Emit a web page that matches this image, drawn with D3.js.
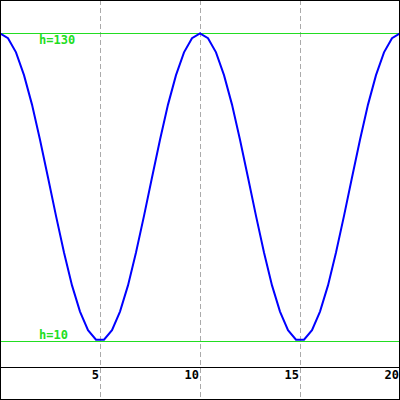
<!DOCTYPE html>
<meta charset="utf-8">
<style>body{margin:0;background:#fff}</style>
<svg width="400" height="400"></svg>
<script src="https://d3js.org/d3.v7.min.js"></script>
<script>
// height samples every 0.4 time units
const times = d3.range(51).map(i => +(i * 0.4).toFixed(1));
const heights = [
  130, 128.1, 122.6, 113.7, 102.2, 88.5, 73.8, 58.8, 44.5, 31.7, 21.5, 14.2, 10.5,
  10.5, 14.2, 21.5, 31.7, 44.5, 58.8, 73.8, 88.5, 102.2, 113.7, 122.6, 128.1,
  130, 128.1, 122.6, 113.7, 102.2, 88.5, 73.8, 58.8, 44.5, 31.7, 21.5, 14.2, 10.5,
  10.5, 14.2, 21.5, 31.7, 44.5, 58.8, 73.8, 88.5, 102.2, 113.7, 122.6, 128.1, 130
];
const xTicks = [5, 10, 15, 20];
const gridX = [5, 10, 15];
const levels = [130, 10];
const levelLabels = ["h=130", "h=10"];

var svg = d3.select("svg"),
    width = 400,
    height = 400;

var x = d3.scaleLinear().domain([0, 20]).range([0, 400]);
var y = d3.scaleLinear().domain([-13, 143]).range([400, 0]);

svg.append("rect").attr("width", width).attr("height", height).attr("fill", "#fff");

// dashed verticals
svg.selectAll(".grid").data(gridX).enter().append("line")
    .attr("x1", d => Math.round(x(d)) + 0.5).attr("x2", d => Math.round(x(d)) + 0.5)
    .attr("y1", 0).attr("y2", height)
    .attr("stroke", "#aaa").attr("stroke-dasharray", "5,3");

// level lines
svg.selectAll(".lvl").data(levels).enter().append("line")
    .attr("x1", 0).attr("x2", width)
    .attr("y1", d => Math.round(y(d)) + 0.5).attr("y2", d => Math.round(y(d)) + 0.5)
    .attr("stroke", "#22dd22");

svg.selectAll(".lvltxt").data(levels).enter().append("text")
    .attr("x", 39)
    .attr("y", (d, i) => i == 0 ? y(d) + 11 : y(d) - 2)
    .attr("fill", "#22dd22")
    .attr("font-family", "DejaVu Sans Mono")
    .attr("font-weight", "bold")
    .attr("font-size", 12)
    .text((d, i) => levelLabels[i]);

// axis line at h=0
svg.append("line")
    .attr("x1", 0).attr("x2", width)
    .attr("y1", Math.round(y(0)) + 0.5).attr("y2", Math.round(y(0)) + 0.5)
    .attr("stroke", "#000");

svg.selectAll(".tick").data(xTicks).enter().append("text")
    .attr("x", d => x(d) - 1)
    .attr("y", y(0) + 12)
    .attr("text-anchor", "end")
    .attr("font-family", "DejaVu Sans Mono")
    .attr("font-weight", "bold")
    .attr("font-size", 12)
    .attr("fill", "#000")
    .text(d => d);

var line = d3.line().x((d, i) => x(times[i])).y(d => y(d));
svg.append("path").datum(heights)
    .attr("d", line)
    .attr("fill", "none")
    .attr("stroke", "#0000ff")
    .attr("stroke-width", 2);

svg.append("rect").attr("x", 0.5).attr("y", 0.5)
    .attr("width", width - 1).attr("height", height - 1)
    .attr("fill", "none").attr("stroke", "#000");
</script>
